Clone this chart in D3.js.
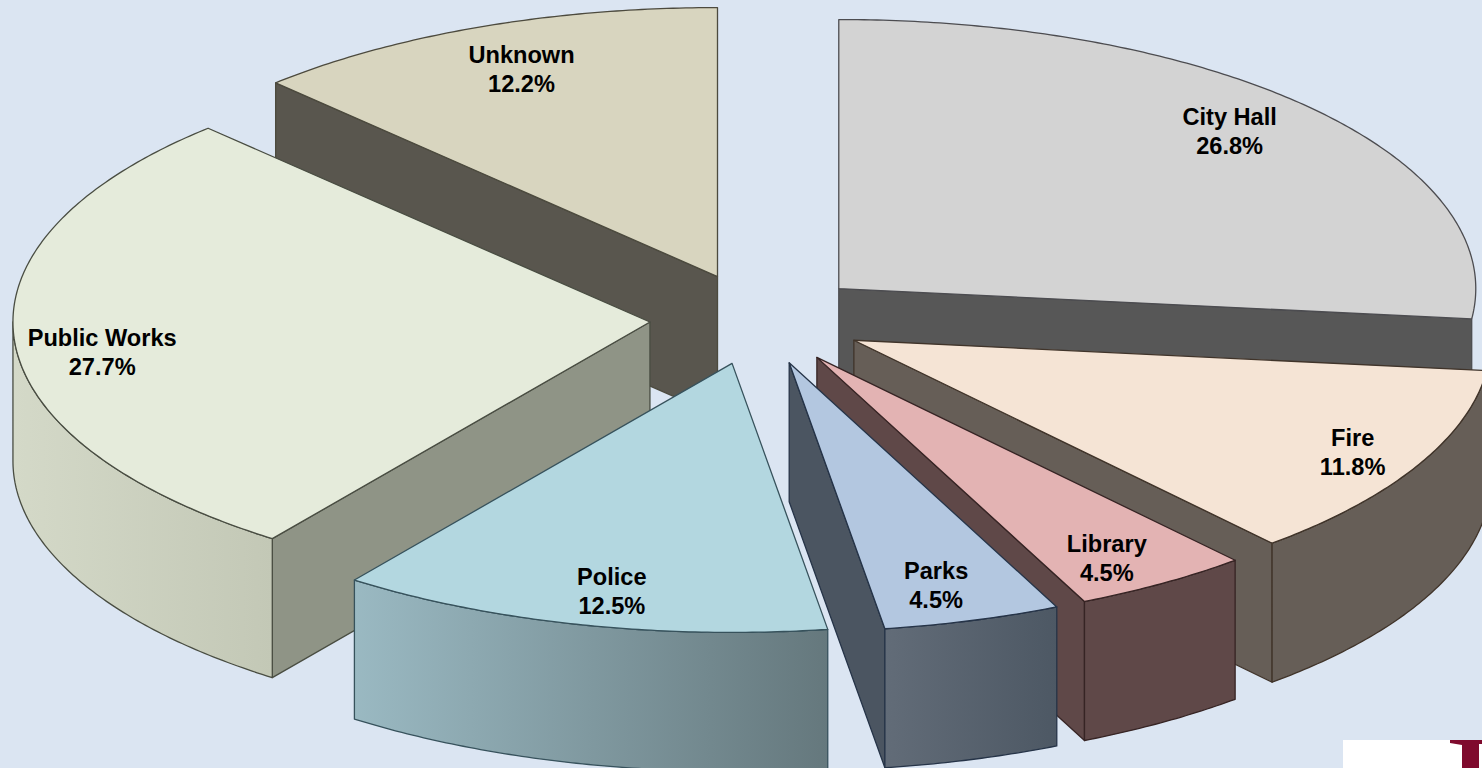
<!DOCTYPE html>
<html>
<head>
<meta charset="utf-8">
<title>Share by department</title>
<script src="https://cdn.jsdelivr.net/npm/d3@7/dist/d3.min.js"></script>
<style>
  html, body { margin: 0; padding: 0; background: #dbe5f2; overflow: hidden; }
  svg { display: block; }
  text { font-family: "Liberation Sans", Arial, sans-serif; font-weight: 700; fill: #000; }
</style>
</head>
<body>
<svg id="chart" width="1482" height="768"></svg>
<script>
// Department shares, clockwise from twelve o'clock
const departments = ["City Hall", "Fire", "Library", "Parks", "Police", "Public Works", "Unknown"];
const shares = [26.8, 11.8, 4.5, 4.5, 12.5, 27.7, 12.2];

// Face colours per department
const topFill = ["#d3d3d3", "#f5e4d5", "#e3b3b3", "#b3c7e0", "#b3d7e0", "#e5ebdb", "#d8d5bf"];
const wallFill = ["#575757", "#665e57", "#5f4848", "#4b5561", "#5d7278", "#8f9486", "#59564e"];
const rimFrom = ["#575757", "#665e57", "#5f4848", "#626c78", "#9ab9c2", "#d4d9c8", "#59564e"];
const rimTo = ["#575757", "#665e57", "#5f4848", "#4d5864", "#65787d", "#c3c8b6", "#59564e"];
const edgeColor = ["#4c4c50", "#40342a", "#362424", "#263448", "#37525c", "#494d42", "#4c4a3e"];

// Label nudges away from the default radial anchor
const labelNudge = [[-13, -5], [19.5, 6], [-4.5, 9], [-9, 4], [9.5, 6], [-7.5, 15], [6.5, 4.5]];

// Tilted-disc projection
const centre = { x: 758, y: 319 };
const radiusX = 637, radiusY = 269, thickness = 139;
const explode = 0.17, labelRadius = 0.85, lineGap = 29;
const minRimSweep = 0.15;

const svg = d3.select("#chart");
const defs = svg.append("defs");

const px = d3.scaleLinear().domain([-1, 1]).range([centre.x - radiusX, centre.x + radiusX]);
const py = d3.scaleLinear().domain([-1, 1]).range([centre.y + radiusY, centre.y - radiusY]);

const slices = d3.pie().sort(null).value(d => d)(shares);
const line = d3.line();

// Apex of a slice after it has been pulled out along its middle angle
function apexOf(s) {
  const mid = (s.startAngle + s.endAngle) / 2;
  return [explode * Math.sin(mid), explode * Math.cos(mid)];
}
function onRim(s, angle, r = 1) {
  const a = apexOf(s);
  return [px(a[0] + r * Math.sin(angle)), py(a[1] + r * Math.cos(angle))];
}
function arcPoints(s, a0, a1) {
  const n = Math.max(2, Math.ceil((a1 - a0) / 0.01));
  return d3.range(n + 1).map(i => onRim(s, a0 + (a1 - a0) * i / n));
}
const drop = pts => pts.map(p => [p[0], p[1] + thickness]);

// Painted back to front so nearer slices cover farther ones
const paintOrder = [0, 6, 5, 1, 2, 3, 4];

paintOrder.forEach(i => {
  const s = slices[i];
  const g = svg.append("g").attr("class", "slice");
  const apex = onRim(s, 0, 0);
  const style = sel => sel
    .attr("stroke", edgeColor[i])
    .attr("stroke-width", 1.3)
    .attr("stroke-linejoin", "round");

  // Straight cut faces, kept only when they turn towards the viewer
  const cuts = [];
  if (Math.sin(s.startAngle) < -1e-6) cuts.push(s.startAngle);
  if (Math.sin(s.endAngle) > 1e-6) cuts.push(s.endAngle);
  cuts.forEach(angle => {
    const edge = [apex, onRim(s, angle)];
    g.append("path")
      .attr("d", line(edge.concat(drop(edge).reverse())) + "Z")
      .attr("fill", wallFill[i])
      .call(style);
  });

  // Curved outer wall on the half of the disc that faces the viewer
  const from = Math.max(s.startAngle, Math.PI / 2);
  const to = Math.min(s.endAngle, Math.PI * 1.5);
  if (to - from > minRimSweep) {
    const rim = arcPoints(s, from, to);
    const xs = d3.extent(rim, p => p[0]);
    const id = "rim" + i;
    const grad = defs.append("linearGradient").attr("id", id)
      .attr("gradientUnits", "userSpaceOnUse")
      .attr("x1", xs[0]).attr("x2", xs[1]).attr("y1", 0).attr("y2", 0);
    grad.append("stop").attr("offset", 0).attr("stop-color", rimFrom[i]);
    grad.append("stop").attr("offset", 1).attr("stop-color", rimTo[i]);
    g.append("path")
      .attr("d", line(rim.concat(drop(rim).reverse())) + "Z")
      .attr("fill", `url(#${id})`)
      .call(style);
  }

  // Top face
  const outline = [apex].concat(arcPoints(s, s.startAngle, s.endAngle));
  g.append("path")
    .attr("d", line(outline) + "Z")
    .attr("fill", topFill[i])
    .call(style);
});

// Name and share labels on top of every slice
slices.forEach((s, i) => {
  const mid = (s.startAngle + s.endAngle) / 2;
  const p = onRim(s, mid, labelRadius);
  const lx = p[0] + labelNudge[i][0];
  const ly = p[1] + labelNudge[i][1];
  const label = svg.append("text")
    .attr("text-anchor", "middle")
    .attr("font-size", 23.6);
  label.append("tspan").attr("x", lx).attr("y", ly - lineGap / 2 + 8).text(departments[i]);
  label.append("tspan").attr("x", lx).attr("y", ly + lineGap / 2 + 8).text(d3.format(".1f")(shares[i]) + "%");
});

// Corner badge, cut off by the bottom of the page
const badge = svg.append("g").attr("class", "badge");
badge.append("rect").attr("x", 1343).attr("y", 740).attr("width", 139).attr("height", 28).attr("fill", "#ffffff");
badge.append("path")
  .attr("d", "M1450,740H1482V744H1479V768H1462V745L1450,743Z")
  .attr("fill", "#7f0a2d");
</script>
</body>
</html>
